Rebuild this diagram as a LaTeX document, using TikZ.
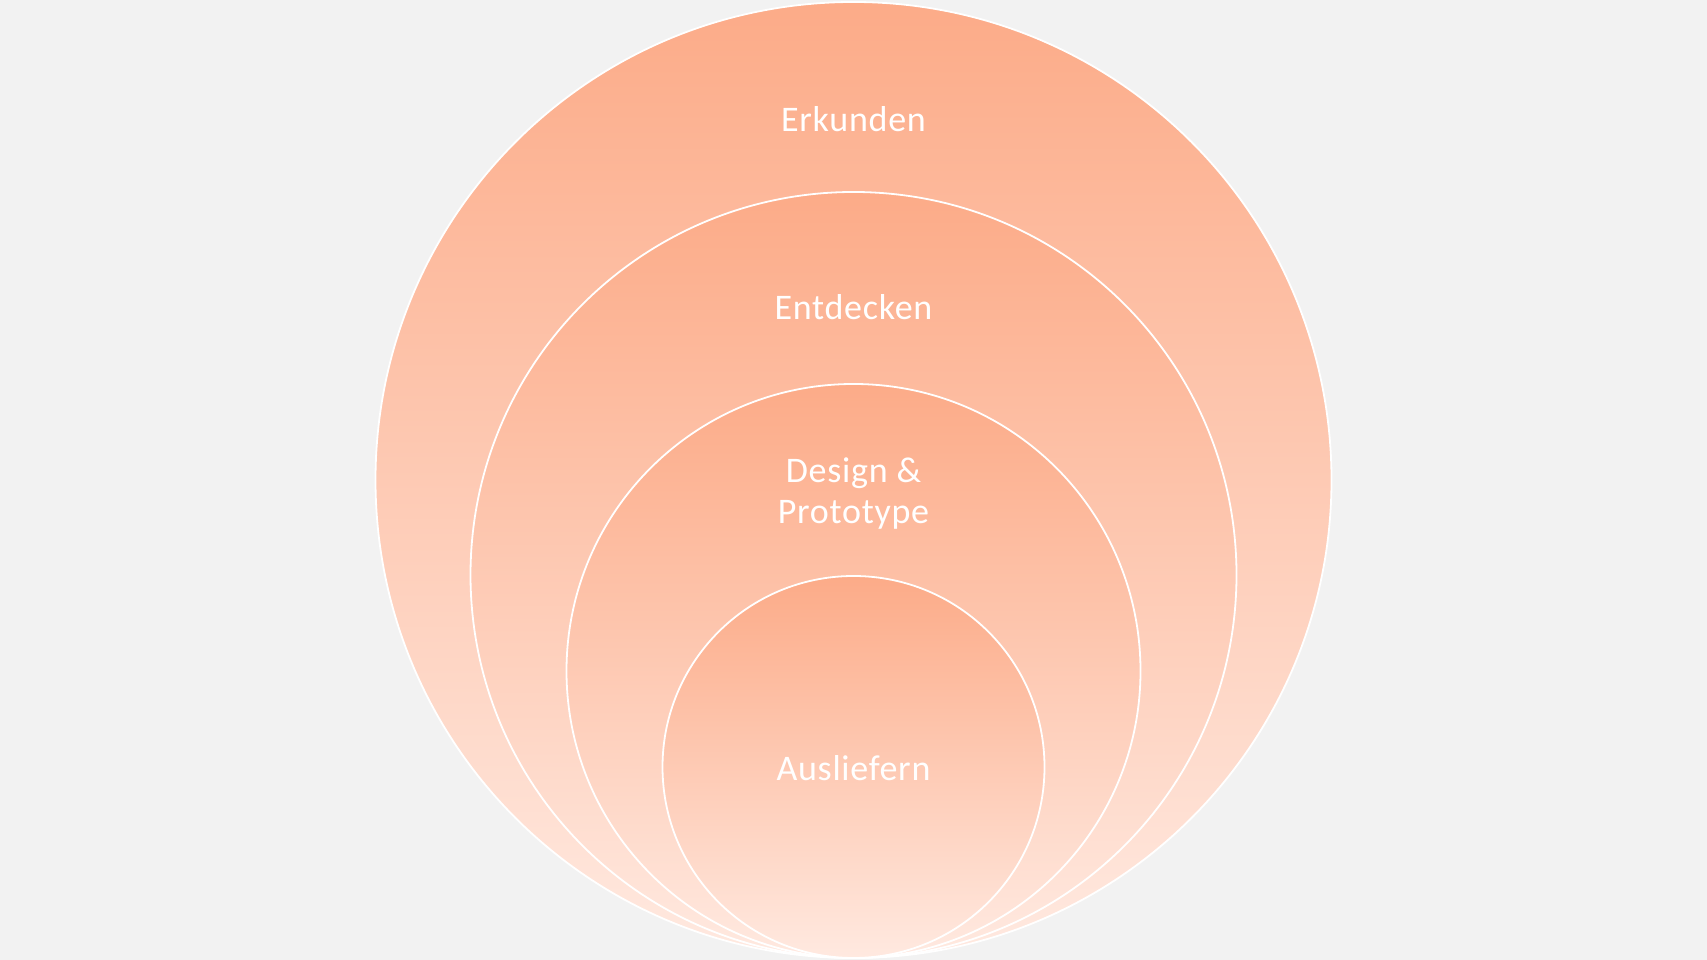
\documentclass[tikz,border=0pt]{standalone}
\usepackage{fontspec}
\setmainfont[LetterSpace=2]{Carlito}
\definecolor{ringtop}{RGB}{252,171,136}
\definecolor{ringbot}{RGB}{255,233,224}
\definecolor{pagebg}{RGB}{242,242,242}
\tikzset{
  ring/.style={top color=ringtop,bottom color=ringbot,draw=white,line width=1.8pt},
  ringlabel/.style={text=white,align=center,font=\fontsize{36}{41}\selectfont}
}
\begin{document}
\begin{tikzpicture}[x=1pt,y=1pt]

\fill [pagebg] (0,0) rectangle (1707,960);
\useasboundingbox (0,0) rectangle (1707,960);
% rings, all touching at the bottom
\shade [ring] (853.5,480) circle (478);
\shade [ring] (853.5,385) circle (383);
\shade [ring] (853.5,289) circle (287);
\shade [ring] (853.5,193) circle (191);
\node [ringlabel] (erkunden) at (853.5,841) {Erkunden};
\node [ringlabel] (entdecken) at (853.5,653) {Entdecken};
\node [ringlabel] (design) at (853.5,466) {Design \&\\Prototype};
\node [ringlabel] (ausliefern) at (853.5,192) {Ausliefern};
\end{tikzpicture}
\end{document}
